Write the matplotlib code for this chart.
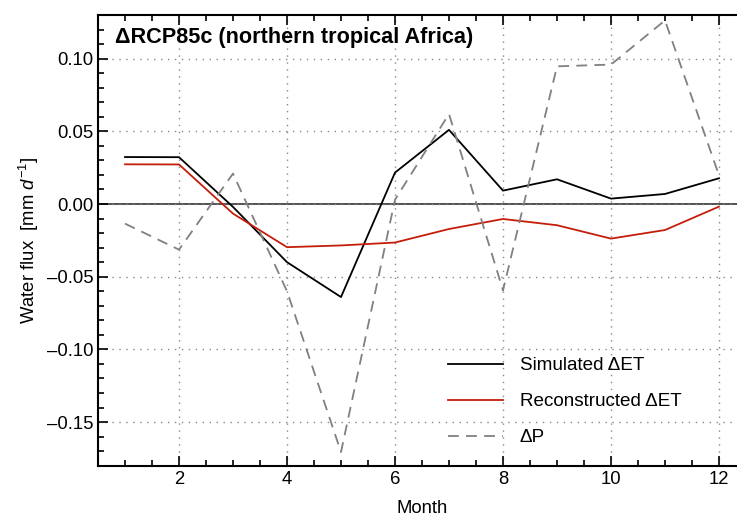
import numpy as np
import matplotlib
matplotlib.use('Agg')
import matplotlib.pyplot as plt
from matplotlib.ticker import MultipleLocator

plt.rcParams['font.family'] = ['Liberation Sans', 'DejaVu Sans']
plt.rcParams['mathtext.fontset'] = 'custom'
plt.rcParams['mathtext.rm'] = 'Liberation Sans'
plt.rcParams['mathtext.it'] = 'Liberation Sans:italic'
plt.rcParams['mathtext.bf'] = 'Liberation Sans:bold'

months = np.arange(1, 13)
sim_et = [0.0323, 0.0322, -0.002, -0.040, -0.064, 0.0216, 0.051, 0.0092, 0.017, 0.0037, 0.0069, 0.0177]
rec_et = [0.0273, 0.0272, -0.0066, -0.0297, -0.0285, -0.0265, -0.0172, -0.0103, -0.0146, -0.0238, -0.0179, -0.0018]
d_p = [-0.0135, -0.0314, 0.0209, -0.060, -0.1706, 0.003, 0.0619, -0.0594, 0.0947, 0.0959, 0.1263, 0.0197]

fig = plt.figure(figsize=(7.37, 5.19), dpi=100)
ax = fig.add_axes([98 / 737, 53.3 / 519, 648 / 737, 450.7 / 519])

ax.axhline(0, color='#333333', lw=1.2, zorder=1)
ax.plot(months, sim_et, color='black', lw=1.3, label='Simulated \u0394ET')
ax.plot(months, rec_et, color='#c41e0a', lw=1.3, label='Reconstructed \u0394ET')
ax.plot(months, d_p, color='#808080', lw=1.3, ls=(0, (6, 4)), label='\u0394P')

ax.set_xlim(0.5, 12.5)
ax.set_ylim(-0.18, 0.13)
ax.xaxis.set_major_locator(MultipleLocator(2))
ax.xaxis.set_minor_locator(MultipleLocator(0.5))
ax.yaxis.set_major_locator(MultipleLocator(0.05))
ax.yaxis.set_minor_locator(MultipleLocator(0.01))
ax.yaxis.set_major_formatter(matplotlib.ticker.FuncFormatter(
    lambda v, p: ('%.2f' % v).replace('-', '\u2013') if abs(v) > 1e-9 else '0.00'))

ax.tick_params(which='both', direction='in', top=True, right=False, labelsize=13.3, width=1.2)
ax.tick_params(which='major', length=7)
ax.tick_params(which='minor', length=4)
ax.grid(True, which='major', ls=(0, (1, 4)), color='#888888', lw=1)
for s in ['left', 'bottom', 'top']:
    ax.spines[s].set_linewidth(1.5)
ax.spines['right'].set_visible(False)

ax.set_xlabel('Month', fontsize=13.3, labelpad=9)
ax.set_ylabel(r'Water flux  [mm $d^{-1}$]', fontsize=13.3, labelpad=4)
ax.text(0.026, 0.95, '\u0394RCP85c (northern tropical Africa)', transform=ax.transAxes,
        fontsize=15.6, fontweight='bold', va='center', ha='left')

ax.legend(loc='lower left', bbox_to_anchor=(0.514, 0.005), frameon=False, fontsize=13.6,
          handlelength=2.9, handletextpad=0.9, labelspacing=1.0)

fig.savefig('out.png', dpi=100)
